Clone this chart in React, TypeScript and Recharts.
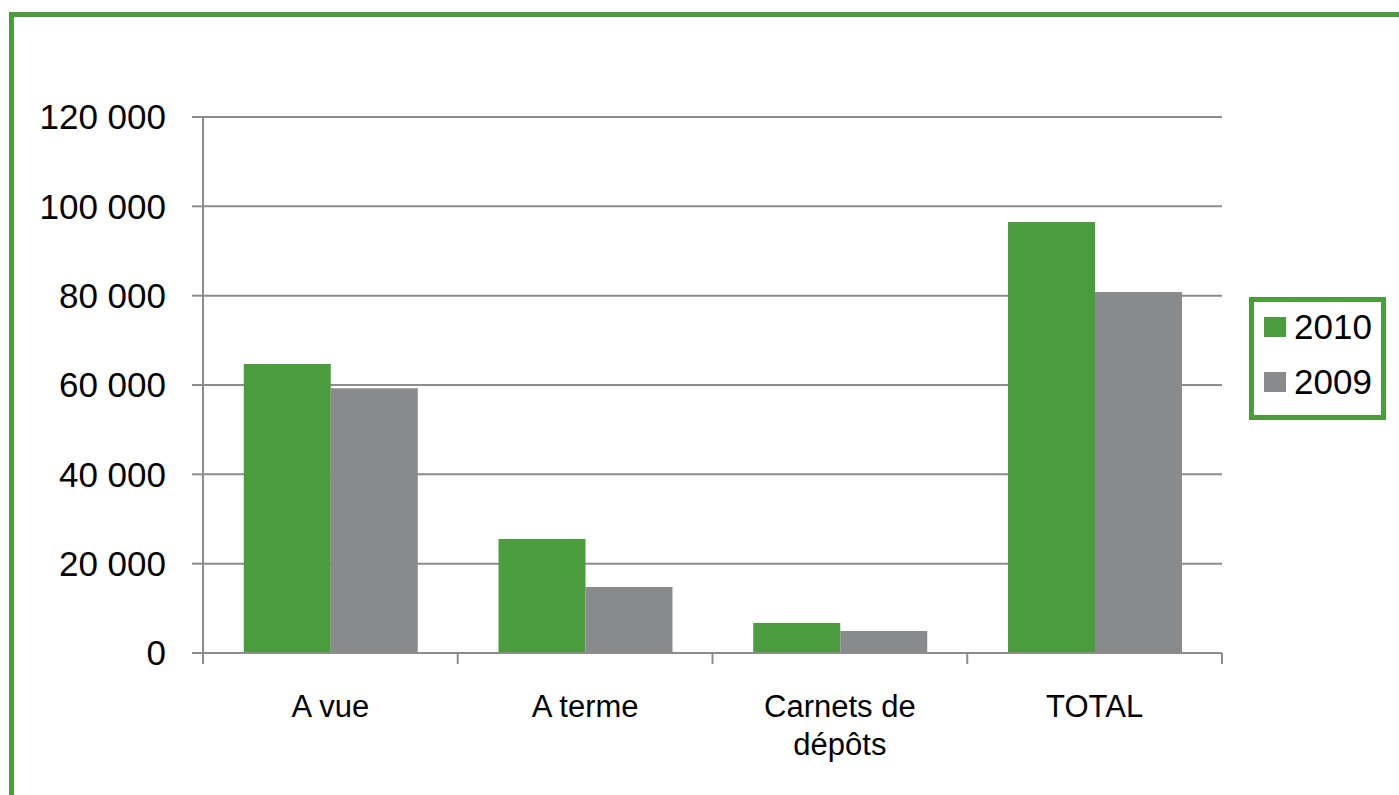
import React from 'react';
import { BarChart, Bar, XAxis, YAxis, CartesianGrid, Legend } from 'recharts';

const categories = ['A vue', 'A terme', 'Carnets de\ndépôts', 'TOTAL'];
const seriesNames = ['2010', '2009'];
const values2010 = [64700, 25500, 6700, 96500];
const values2009 = [59300, 14800, 4900, 80800];
const yTicks = [0, 20000, 40000, 60000, 80000, 100000, 120000];

const GREEN = '#4b9c3d';
const GRAY = '#898a8b';
const LINE = '#8c8c8c';
const FONT = '"Liberation Sans", Arial, sans-serif';
const TICK_MARGIN = 42;

const data = categories.map((c, i) => ({ name: c, y2010: values2010[i], y2009: values2009[i] }));

const fmt = (n: number) => String(n).replace(/\B(?=(\d{3})+(?!\d))/g, ' ');

const CatTick = (props: any) => {
  const { x, y, payload } = props;
  const lines = String(payload.value).split('\n');
  const half = payload.offset || 0;
  const axisY = y - TICK_MARGIN;
  const isLast = payload.index === categories.length - 1;
  return (
    <g>
      <line x1={x - half} x2={x - half} y1={axisY} y2={axisY + 11} stroke={LINE} strokeWidth={2} />
      {isLast && <line x1={x + half} x2={x + half} y1={axisY} y2={axisY + 11} stroke={LINE} strokeWidth={2} />}
      <text x={x} y={y} textAnchor="middle" fontSize={31} fontFamily={FONT} fill="#000">
        {lines.map((l, i) => (
          <tspan key={i} x={x} dy={i === 0 ? '0.71em' : 38}>
            {l}
          </tspan>
        ))}
      </text>
    </g>
  );
};

const LegendBox = (props: any) => {
  const items = [...(props.payload || [])].sort(
    (a: any, b: any) => seriesNames.indexOf(String(a.value)) - seriesNames.indexOf(String(b.value))
  );
  return (
    <div
      style={{
        border: `5px solid ${GREEN}`,
        width: 127,
        height: 113,
        boxSizing: 'content-box',
        background: '#fff',
        position: 'relative',
        fontFamily: FONT,
      }}
    >
      {items.map((it: any, i: number) => (
        <div
          key={i}
          style={{ position: 'absolute', left: 10, top: 5 + i * 55, height: 40, display: 'flex', alignItems: 'center' }}
        >
          <div style={{ width: 22, height: 20, background: it.color, marginRight: 8 }} />
          <span style={{ fontSize: 35, color: '#000', lineHeight: '40px' }}>{it.value}</span>
        </div>
      ))}
    </div>
  );
};

export default function App() {
  return (
    <div
      style={{
        position: 'fixed',
        left: 0,
        top: 0,
        width: 1399,
        height: 795,
        overflow: 'hidden',
        background: '#fff',
      }}
    >
      <div
        style={{
          position: 'absolute',
          left: 9,
          top: 12,
          width: 2000,
          height: 2000,
          border: `5px solid ${GREEN}`,
        }}
      />
      <div style={{ position: 'absolute', left: 0, top: 0 }}>
        <BarChart
          width={1399}
          height={795}
          data={data}
          margin={{ top: 117, right: 40, left: 0, bottom: 0 }}
          barGap={0}
          barCategoryGap="16%"
        >
          <CartesianGrid horizontal vertical={false} stroke={LINE} strokeWidth={2} />
          <XAxis
            dataKey="name"
            height={142}
            axisLine={{ stroke: LINE, strokeWidth: 2 }}
            tickLine={false}
            tickSize={0}
            tickMargin={TICK_MARGIN}
            interval={0}
            tick={<CatTick />}
          />
          <YAxis
            width={203}
            domain={[0, 120000]}
            ticks={yTicks}
            tickFormatter={fmt}
            axisLine={{ stroke: LINE, strokeWidth: 2 }}
            tickLine={{ stroke: LINE, strokeWidth: 2 }}
            tickSize={11}
            tickMargin={26}
            tick={{ fontSize: 35, fontFamily: FONT, fill: '#000' }}
          />
          <YAxis
            yAxisId="r"
            orientation="right"
            width={0}
            domain={[0, 120000]}
            tick={false}
            tickLine={false}
            axisLine={{ stroke: LINE, strokeWidth: 2 }}
          />
          <Legend
            layout="vertical"
            align="right"
            verticalAlign="middle"
            content={<LegendBox />}
            wrapperStyle={{ position: 'absolute', left: 1249, top: 297, width: 137, height: 123 }}
          />
          <Bar dataKey="y2010" name="2010" fill={GREEN} isAnimationActive={false} />
          <Bar dataKey="y2009" name="2009" fill={GRAY} isAnimationActive={false} />
        </BarChart>
      </div>
    </div>
  );
}
